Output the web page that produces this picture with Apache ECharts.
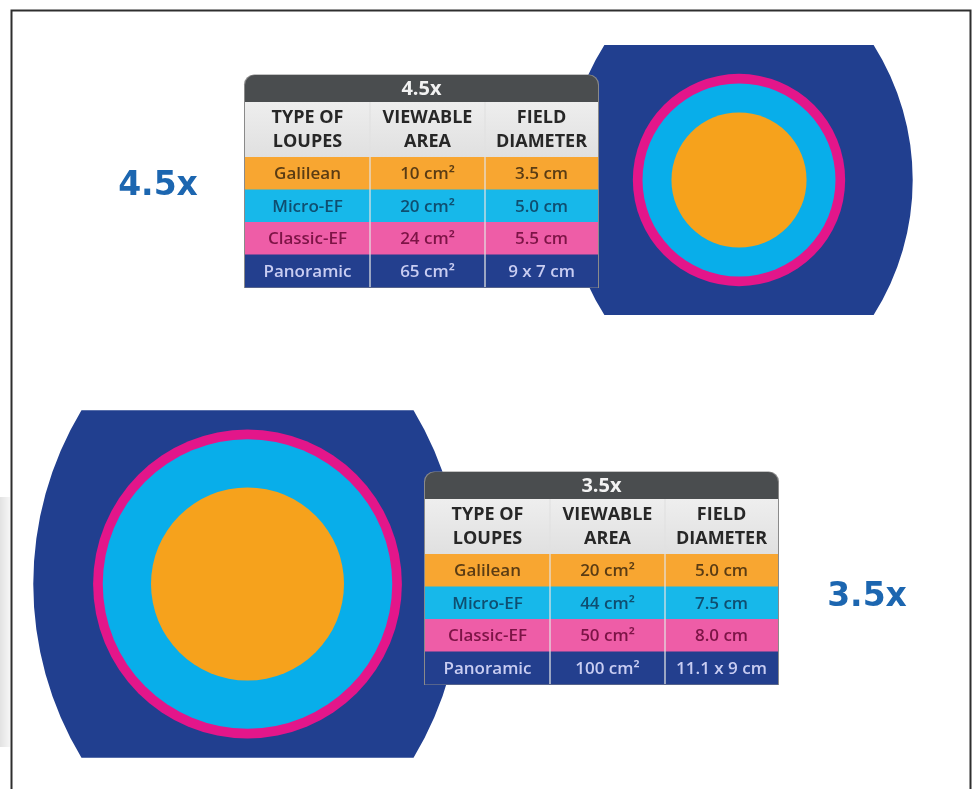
<!DOCTYPE html>
<html>
<head>
<meta charset="utf-8">
<script src="https://cdn.jsdelivr.net/npm/echarts@6/dist/echarts.min.js"></script>
<style>
html,body{margin:0;padding:0;background:#fff;}
#chart{width:976px;height:789px;}
</style>
</head>
<body>
<div id="chart"></div>
<script>
// ---------------- DATA ----------------
const magnifications = ['4.5x', '3.5x'];
const loupeTypes = ['Galilean', 'Micro-EF', 'Classic-EF', 'Panoramic'];
const headerLabels = [['TYPE OF', 'LOUPES'], ['VIEWABLE', 'AREA'], ['FIELD', 'DIAMETER']];
// field diameters (cm) per magnification [4.5x, 3.5x]
const galileanDiameter = [3.5, 5.0];
const microEfDiameter = [5.0, 7.5];
const classicEfDiameter = [5.5, 8.0];
const panoramicWidth = [9, 11.1];
const panoramicHeight = [7, 9];
// table texts
const viewableArea45 = ['10 cm²', '20 cm²', '24 cm²', '65 cm²'];
const fieldDiameter45 = ['3.5 cm', '5.0 cm', '5.5 cm', '9 x 7 cm'];
const viewableArea35 = ['20 cm²', '44 cm²', '50 cm²', '100 cm²'];
const fieldDiameter35 = ['5.0 cm', '7.5 cm', '8.0 cm', '11.1 x 9 cm'];

// ---------------- LAYOUT / STYLE ----------------
const W = 976, H = 789;
const K = 38.6; // px per cm
const shapeCenters = [[739, 180], [247.5, 584]];
const cornerFrac = 0.775;
const C = {
  navy: '#213f8f', magenta: '#e3168a', cyan: '#08aeea', orange: '#f6a21c',
  rowOrange: '#f8a631', rowCyan: '#17b8ea', rowPink: '#ee5da7', rowNavy: '#233f8e',
  txtOrange: '#5a3c14', txtCyan: '#0f4e70', txtPink: '#7c1446', txtNavy: '#c9cdf2',
  title: '#4a4d4f', big: '#1c66b0'
};
const rowFills = [C.rowOrange, C.rowCyan, C.rowPink, C.rowNavy];
const rowText = [C.txtOrange, C.txtCyan, C.txtPink, C.txtNavy];
const tables = [
  { x: 245, y: 75, area: viewableArea45, diam: fieldDiameter45 },
  { x: 425, y: 472, area: viewableArea35, diam: fieldDiameter35 }
];
const colW = [125, 115, 113];
const titleH = 27, headH = 55, rowH = 32.5;
const bigLabelPos = [[158, 186], [867, 597]];

// ---------------- GRAPHIC (tables, labels, frame) ----------------
const elements = [];
const Z = 100;
// left shadow artifact
elements.push({ type: 'rect', z: 1, shape: { x: 0, y: 497, width: 10, height: 250 },
  style: { fill: { type: 'linear', x: 0, y: 0, x2: 1, y2: 0, colorStops: [{ offset: 0, color: '#e2e2e2' }, { offset: 1, color: '#f6f6f6' }] } } });
// frame
elements.push({ type: 'polyline', z: Z, shape: { points: [[11.5, H], [11.5, 10.5], [970.5, 10.5], [970.5, H]] },
  style: { stroke: '#2e2e2e', lineWidth: 2, fill: null } });

tables.forEach((t, ti) => {
  const tw = colW[0] + colW[1] + colW[2];
  const bodyTop = t.y + titleH;
  const totalH = titleH + headH + rowH * 4;
  // shadow/border
  elements.push({ type: 'rect', z: Z, shape: { x: t.x - 1, y: t.y - 0.5, width: tw + 2, height: totalH + 1.5, r: [10, 10, 0, 0] },
    style: { fill: '#8a8a8a' } });
  // title bar
  elements.push({ type: 'rect', z: Z, shape: { x: t.x, y: t.y, width: tw, height: titleH + 4, r: [10, 10, 0, 0] },
    style: { fill: C.title } });
  elements.push({ type: 'text', z: Z + 2, style: { text: magnifications[ti], x: t.x + tw / 2, y: t.y + titleH / 2 + 1,
    textAlign: 'center', textVerticalAlign: 'middle', font: 'bold 20px "Open Sans"', fill: '#f2f2f2' } });
  // header
  elements.push({ type: 'rect', z: Z, shape: { x: t.x, y: bodyTop, width: tw, height: headH },
    style: { fill: { type: 'linear', x: 0, y: 0, x2: 0, y2: 1, colorStops: [{ offset: 0, color: '#eeeeee' }, { offset: 1, color: '#e0e0e0' }] } } });
  let cx = t.x;
  headerLabels.forEach((lines, ci) => {
    elements.push({ type: 'text', z: Z + 2, style: { text: lines[0], x: cx + colW[ci] / 2, y: bodyTop + 16,
      textAlign: 'center', textVerticalAlign: 'middle', font: 'bold 18px "Open Sans"', fill: '#272727' } });
    elements.push({ type: 'text', z: Z + 2, style: { text: lines[1], x: cx + colW[ci] / 2, y: bodyTop + 40,
      textAlign: 'center', textVerticalAlign: 'middle', font: 'bold 18px "Open Sans"', fill: '#272727' } });
    cx += colW[ci];
  });
  // rows
  loupeTypes.forEach((name, ri) => {
    const ry = bodyTop + headH + ri * rowH;
    elements.push({ type: 'rect', z: Z, shape: { x: t.x, y: ry, width: tw, height: rowH + 0.5 }, style: { fill: rowFills[ri] } });
    const vals = [name, t.area[ri], t.diam[ri]];
    let x0 = t.x;
    vals.forEach((v, ci) => {
      elements.push({ type: 'text', z: Z + 2, style: { text: v, x: x0 + colW[ci] / 2, y: ry + rowH / 2 + 1,
        textAlign: 'center', textVerticalAlign: 'middle', font: '600 17px "Open Sans"', fill: rowText[ri] } });
      x0 += colW[ci];
    });
  });
  // column dividers
  let dx = t.x;
  for (let ci = 0; ci < 2; ci++) {
    dx += colW[ci];
    elements.push({ type: 'line', z: Z + 1, shape: { x1: dx, y1: bodyTop, x2: dx, y2: t.y + totalH },
      style: { stroke: 'rgba(225,225,225,0.85)', lineWidth: 1.5 } });
  }
  // big label
  elements.push({ type: 'text', z: Z, style: { text: magnifications[ti], x: bigLabelPos[ti][0], y: bigLabelPos[ti][1],
    textAlign: 'center', textVerticalAlign: 'middle', font: 'bold 33px "DejaVu Sans"', fill: C.big } });
});

// ---------------- CHART ----------------
const chart = echarts.init(document.getElementById('chart'), null, { renderer: 'canvas' });
const seriesData = magnifications.map((m, i) => [i, panoramicWidth[i], panoramicHeight[i], classicEfDiameter[i], microEfDiameter[i], galileanDiameter[i]]);

function renderItem(params, api) {
  const i = api.value(0);
  const c = shapeCenters[i];
  const s = api.size([api.value(1), api.value(2)]);
  const pw = s[0], ph = s[1];
  const rClassic = api.size([api.value(3), 0])[0] / 2;
  const rMicro = api.size([api.value(4), 0])[0] / 2;
  const rGal = api.size([api.value(5), 0])[0] / 2;
  const wc = pw * cornerFrac;
  const sag = (pw - wc) / 2, hh = ph / 2;
  const R = (hh * hh + sag * sag) / (2 * sag);
  const xl = c[0] - wc / 2, xr = c[0] + wc / 2, yt = c[1] - hh, yb = c[1] + hh;
  const path = `M${xl} ${yt} L${xr} ${yt} A${R} ${R} 0 0 1 ${xr} ${yb} L${xl} ${yb} A${R} ${R} 0 0 1 ${xl} ${yt} Z`;
  return {
    type: 'group',
    children: [
      { type: 'path', shape: { pathData: path }, style: { fill: C.navy } },
      { type: 'circle', shape: { cx: c[0], cy: c[1], r: rClassic }, style: { fill: C.magenta } },
      { type: 'circle', shape: { cx: c[0], cy: c[1], r: rMicro }, style: { fill: C.cyan } },
      { type: 'circle', shape: { cx: c[0], cy: c[1], r: rGal }, style: { fill: C.orange } }
    ]
  };
}

chart.setOption({
  backgroundColor: '#ffffff',
  animation: false,
  grid: { left: 0, right: 0, top: 0, bottom: 0 },
  xAxis: { type: 'value', min: 0, max: W / K, show: false },
  yAxis: { type: 'value', min: 0, max: H / K, inverse: true, show: false },
  series: [{
    type: 'custom',
    renderItem: renderItem,
    data: seriesData,
    encode: { x: 1, y: 2 },
    z: 2,
    silent: true
  }],
  graphic: { elements: elements }
});
</script>
</body>
</html>
